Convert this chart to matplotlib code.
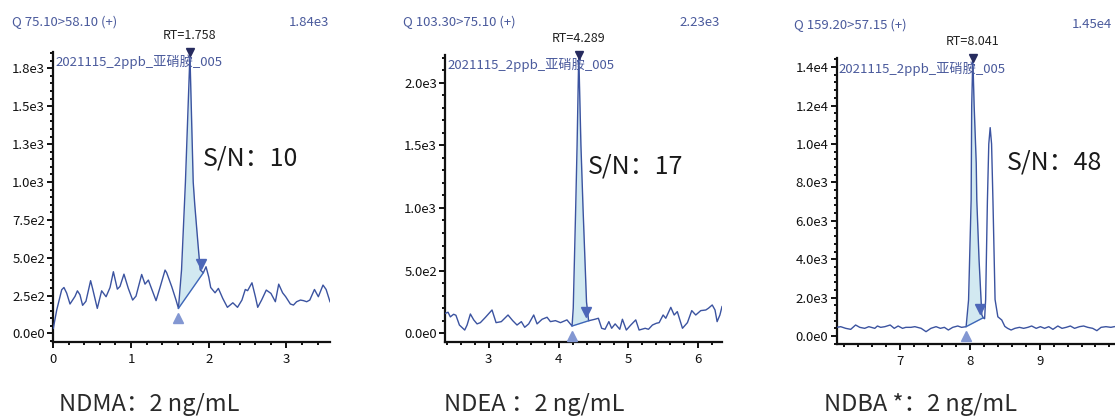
import numpy as np
import matplotlib
matplotlib.use('Agg')
import matplotlib.pyplot as plt
from matplotlib.ticker import MultipleLocator
from matplotlib.transforms import ScaledTranslation

plt.rcParams['font.family'] = ['Noto Sans CJK SC', 'DejaVu Sans']

# --- chromatogram traces (time in min, intensity in counts) ---
t1 = [0.0, 0.044, 0.108, 0.137, 0.172, 0.215, 0.279, 0.31, 0.343, 0.377, 0.42, 0.48, 0.506, 0.566,
      0.622, 0.679, 0.73, 0.773, 0.824, 0.858, 0.909, 0.965, 1.021, 1.064, 1.137, 1.18, 1.223, 1.279,
      1.322, 1.373, 1.438, 1.459, 1.524, 1.579, 1.61, 1.65, 1.70, 1.758, 1.80, 1.82, 1.86, 1.89, 1.93,
      1.965, 2.0, 2.025, 2.081, 2.124, 2.18, 2.24, 2.31, 2.37, 2.427, 2.47, 2.5, 2.556, 2.6, 2.63, 2.68,
      2.74, 2.8, 2.857, 2.9, 2.95, 2.99, 3.05, 3.09, 3.13, 3.18, 3.22, 3.26, 3.30, 3.36, 3.41, 3.47,
      3.51, 3.56]
y1 = [33, 154, 288, 303, 266, 194, 244, 281, 255, 185, 212, 348, 295, 165, 281, 242, 303, 407, 292,
      310, 391, 297, 220, 246, 389, 325, 352, 275, 216, 303, 418, 400, 308, 220, 165, 420, 1000, 1840,
      1000, 850, 600, 420, 400, 440, 372, 303, 268, 297, 231, 172, 202, 172, 220, 290, 282, 334, 242,
      172, 220, 286, 264, 209, 325, 268, 242, 194, 187, 209, 220, 216, 209, 220, 290, 242, 319, 290, 209]

t2 = [2.378, 2.417, 2.45, 2.497, 2.53, 2.58, 2.656, 2.69, 2.737, 2.785, 2.833, 2.88, 2.952, 3.047,
      3.105, 3.18, 3.276, 3.343, 3.405, 3.467, 3.515, 3.572, 3.644, 3.692, 3.764, 3.835, 3.883, 3.955,
      4.027, 4.12, 4.193, 4.21, 4.245, 4.265, 4.289, 4.32, 4.35, 4.40, 4.43, 4.52, 4.57, 4.617, 4.665,
      4.72, 4.76, 4.81, 4.876, 4.914, 4.97, 5.034, 5.105, 5.153, 5.24, 5.287, 5.344, 5.40, 5.44, 5.497,
      5.535, 5.607, 5.655, 5.70, 5.774, 5.845, 5.907, 5.964, 6.036, 6.108, 6.146, 6.2, 6.24, 6.27,
      6.31, 6.34]
y2 = [159, 168, 131, 152, 144, 66, 26, 66, 154, 107, 75, 85, 127, 186, 85, 93, 146, 101, 66, 93, 48,
      75, 146, 75, 112, 128, 93, 101, 85, 107, 58, 200, 1000, 1500, 2230, 1500, 1000, 250, 100, 112,
      120, 40, 32, 93, 40, 75, 32, 112, 26, 66, 107, 26, 40, 32, 66, 80, 85, 146, 120, 207, 146, 173,
      40, 85, 181, 146, 181, 186, 200, 226, 186, 93, 146, 213]

t3 = [6.089, 6.146, 6.218, 6.29, 6.36, 6.42, 6.49, 6.55, 6.635, 6.673, 6.72, 6.78, 6.856, 6.914, 6.97,
      7.033, 7.08, 7.153, 7.21, 7.3, 7.37, 7.44, 7.514, 7.576, 7.633, 7.69, 7.753, 7.825, 7.88, 7.945,
      7.98, 8.017, 8.025, 8.041, 8.06, 8.09, 8.098, 8.13, 8.17, 8.19, 8.21, 8.225, 8.25, 8.27, 8.29,
      8.31, 8.33, 8.36, 8.40, 8.456, 8.50, 8.54, 8.59, 8.645, 8.71, 8.77, 8.83, 8.885, 8.95, 9.01,
      9.07, 9.13, 9.19, 9.26, 9.32, 9.38, 9.44, 9.5, 9.57, 9.63, 9.69, 9.76, 9.82, 9.88, 9.95, 10.02,
      10.07]
y3 = [451, 486, 399, 347, 573, 451, 399, 486, 399, 521, 451, 486, 573, 399, 521, 399, 451, 451, 486,
      399, 226, 399, 486, 399, 451, 312, 451, 521, 451, 486, 1875, 7083, 12000, 14500, 12000, 9000,
      7083, 4000, 1100, 950, 900, 1900, 7000, 10000, 10850, 10000, 7000, 1900, 1000, 833, 500, 399,
      312, 399, 451, 399, 451, 521, 399, 486, 399, 486, 347, 521, 399, 451, 521, 399, 486, 521, 451,
      399, 278, 451, 486, 451, 486]

# integrated peak: start / apex / end (time)
pk_start = [1.61, 4.193, 7.945]
pk_apex = [1.758, 4.289, 8.041]
pk_end = [1.93, 4.43, 8.19]

mrm = ['Q 75.10>58.10 (+)', 'Q 103.30>75.10 (+)', 'Q 159.20>57.15 (+)']
max_int = ['1.84e3', '2.23e3', '1.45e4']
sample = '2021115_2ppb_亚硝胺_005'
sn = ['S/N：10', 'S/N：17', 'S/N：48']
names = ['NDMA：2 ng/mL', 'NDEA ：2 ng/mL', 'NDBA *：2 ng/mL']

yticks = [[0, 250, 500, 750, 1000, 1250, 1500, 1750],
          [0, 500, 1000, 1500, 2000],
          [0, 2000, 4000, 6000, 8000, 10000, 12000, 14000]]
ylabels = [['0.0e0', '2.5e2', '5.0e2', '7.5e2', '1.0e3', '1.3e3', '1.5e3', '1.8e3'],
           ['0.0e0', '5.0e2', '1.0e3', '1.5e3', '2.0e3'],
           ['0.0e0', '2.0e3', '4.0e3', '6.0e3', '8.0e3', '1.0e4', '1.2e4', '1.4e4']]
xticks = [[0, 1, 2, 3], [3, 4, 5, 6], [7, 8, 9]]

# layout (pixels / axis limits)
W, H = 1115, 419
axes_rect = [[53.3, 52, 330, 341.7], [445.3, 55, 722, 341.7], [836.7, 58.3, 1115, 344.3]]
xlims = [(0, 3.56), (2.378, 6.34), (6.089, 10.08)]
ylims = [(-55, 1858), (-67, 2220), (-432, 14460)]
yminor = [50, 100, 400]
header_x = [12, 402.7, 794]
header_y = [22, 22, 25]
maxint_x = [329, 720, 1112]
sn_xy = [(203, 159), (588, 167), (1007, 163)]
name_x = [59, 444, 824]

trace_col = '#3b53a0'
text_blue = '#4a5a9c'

fig = plt.figure(figsize=(W / 100, H / 100), dpi=100)

traces = [(t1, y1), (t2, y2), (t3, y3)]
for i, (t, y) in enumerate(traces):
    l, top, r, b = axes_rect[i]
    ax = fig.add_axes([l / W, 1 - b / H, (r - l) / W, (b - top) / H])
    t = np.array(t, dtype=float)
    y = np.array(y, dtype=float)

    ax.plot(t, y, color=trace_col, lw=1.0, zorder=3)

    # integrated area between trace and baseline
    ts, te = pk_start[i], pk_end[i]
    ys, ye = np.interp(ts, t, y), np.interp(te, t, y)
    m = (t >= ts) & (t <= te)
    base = ys + (ye - ys) * (t[m] - ts) / (te - ts)
    ax.fill_between(t[m], base, y[m], color='#d2e9f1', zorder=2, lw=0)
    ax.plot([ts, te], [ys, ye], color='#3f66b8', lw=1.0, zorder=3)
    ax.plot(ts, ys, marker='^', ms=7, color='#8397d2', ls='none', zorder=4,
            transform=ax.transData + ScaledTranslation(0, -7 / 72, fig.dpi_scale_trans))
    ax.plot(te, ye, marker='v', ms=7, color='#4d67b8', ls='none', zorder=4,
            transform=ax.transData + ScaledTranslation(-2 / 72, 6 / 72, fig.dpi_scale_trans))

    # apex marker & RT label
    ax.set_xlim(*xlims[i])
    ax.set_ylim(*ylims[i])
    ax.plot(pk_apex[i], ylims[i][1], marker='v', ms=6, color='#262b5e', clip_on=False, zorder=5)
    ax.annotate('RT=%.3f' % pk_apex[i], xy=(pk_apex[i], 1), xycoords=('data', 'axes fraction'),
                xytext=(0, 12), textcoords='offset points', ha='center', va='center',
                fontsize=9, color='#222222')

    ax.text(0.008, 0.965, sample, transform=ax.transAxes, ha='left', va='center',
            fontsize=9.5, color=text_blue)

    for s in ['top', 'right']:
        ax.spines[s].set_visible(False)
    for s in ['left', 'bottom']:
        ax.spines[s].set_linewidth(1.6)
        ax.spines[s].set_color('#111111')
    ax.set_yticks(yticks[i])
    ax.set_yticklabels(ylabels[i])
    ax.set_xticks(xticks[i])
    ax.xaxis.set_minor_locator(MultipleLocator(0.2))
    ax.yaxis.set_minor_locator(MultipleLocator(yminor[i]))
    ax.tick_params(which='major', length=4, width=1.4, labelsize=9.5, pad=2, colors='#111111')
    ax.tick_params(which='minor', length=2.5, width=1.4, colors='#111111')
    ax.tick_params(axis='x', which='major', pad=4)

    fig.text(header_x[i] / W, 1 - header_y[i] / H, mrm[i], fontsize=9.5, color=text_blue,
             ha='left', va='center')
    fig.text(maxint_x[i] / W, 1 - header_y[i] / H, max_int[i], fontsize=9.5, color=text_blue,
             ha='right', va='center')
    fig.text(sn_xy[i][0] / W, 1 - sn_xy[i][1] / H, sn[i], fontsize=18, color='#1a1a1a',
             ha='left', va='center')
    fig.text(name_x[i] / W, 1 - 404 / H, names[i], fontsize=17, color='#2a2a2a',
             ha='left', va='center', fontweight='light')

fig.savefig('out.png', dpi=100)
